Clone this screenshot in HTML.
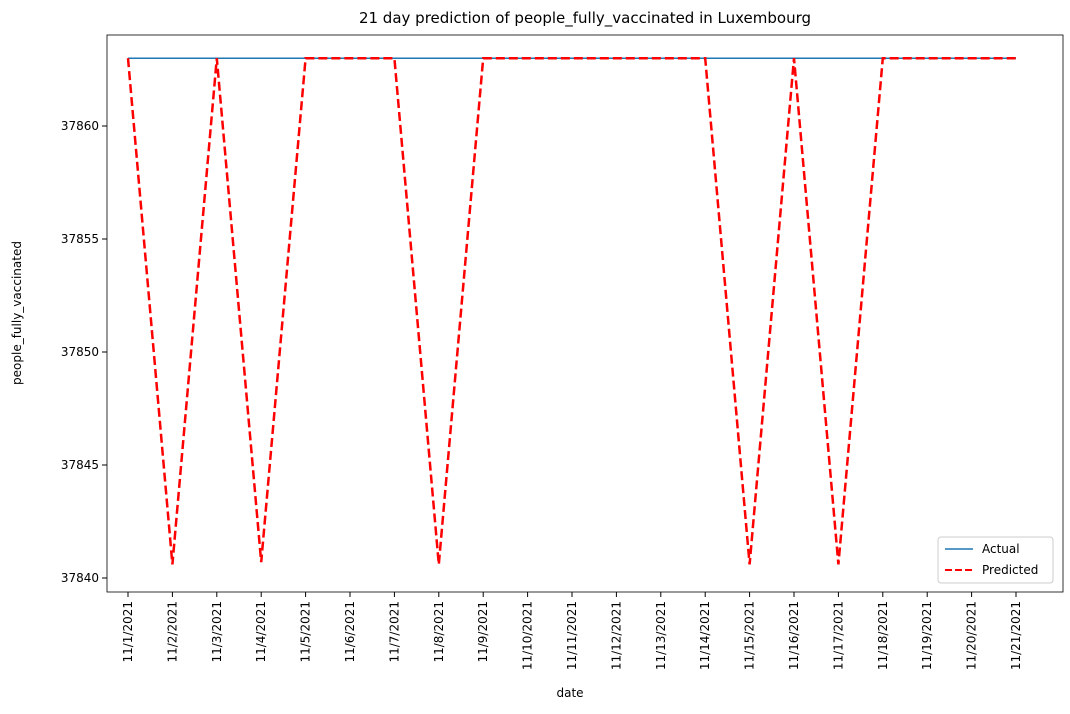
<!DOCTYPE html>
<html><head><meta charset="utf-8"><style>
body{margin:0;background:#fff;font-family:"Liberation Sans","DejaVu Sans",sans-serif;}
svg text{font-family:"DejaVu Sans","Liberation Sans",sans-serif;}
</style></head><body>
<svg id="chart" width="1070" height="709" xmlns="http://www.w3.org/2000/svg">
<rect width="1070" height="709" fill="#fff"/>
<text x="585" y="23" text-anchor="middle" font-size="15">21 day prediction of people_fully_vaccinated in Luxembourg</text>
<text x="570" y="697" text-anchor="middle" font-size="12">date</text>
<text transform="translate(21,313) rotate(-90)" text-anchor="middle" font-size="12">people_fully_vaccinated</text>
<g id="ticks"></g>
<g id="series"></g>
<rect x="107" y="35" width="956" height="557" fill="none" stroke="#000" stroke-width="0.8"/>
<g>
<rect x="938" y="537" width="115" height="46" rx="3" fill="#fff" stroke="#ccc"/>
<line x1="945" y1="549" x2="973" y2="549" stroke="#1f77b4" stroke-width="1.5"/>
<text x="982" y="553" font-size="12">Actual</text>
<line x1="945" y1="570" x2="973" y2="570" stroke="red" stroke-width="2" stroke-dasharray="7,3"/>
<text x="982" y="574" font-size="12">Predicted</text>
</g>
</svg>
<script>
const dates=["11/1/2021","11/2/2021","11/3/2021","11/4/2021","11/5/2021","11/6/2021","11/7/2021","11/8/2021","11/9/2021","11/10/2021","11/11/2021","11/12/2021","11/13/2021","11/14/2021","11/15/2021","11/16/2021","11/17/2021","11/18/2021","11/19/2021","11/20/2021","11/21/2021"];
const actual=[37863,37863,37863,37863,37863,37863,37863,37863,37863,37863,37863,37863,37863,37863,37863,37863,37863,37863,37863,37863,37863];
const predicted=[37863,37840.6,37863,37840.7,37863,37863,37863,37840.6,37863,37863,37863,37863,37863,37863,37840.6,37863,37840.6,37863,37863,37863,37863];
const yTicks=[37840,37845,37850,37855,37860];
const NS="http://www.w3.org/2000/svg";
const x=i=>128+i*(1016-128)/(dates.length-1);
const y=v=>578-(v-37840)*(578-126)/20;
const tg=document.getElementById('ticks'),sg=document.getElementById('series');
function mk(tag,attrs,parent){const e=document.createElementNS(NS,tag);for(const k in attrs)e.setAttribute(k,attrs[k]);parent.appendChild(e);return e;}
yTicks.forEach(v=>{
 const l=mk('line',{x1:102,x2:107,y1:y(v),y2:y(v),stroke:'#000'},tg);
 
 
 const t=mk('text',{x:99,y:y(v)+4,'text-anchor':'end','font-size':12},tg);t.textContent=v;
 
 
});
dates.forEach((d,i)=>{
 const l=mk('line',{x1:x(i),x2:x(i),y1:592,y2:597,stroke:'#000'},tg);
 
 
 const t=mk('text',{transform:`translate(${x(i)+4},601) rotate(-90)`,'text-anchor':'end','font-size':12},tg);t.textContent=d;
 
 
});
const pa=mk('polyline',{points:actual.map((v,i)=>x(i)+','+y(v)).join(' '),fill:'none',stroke:'#1f77b4','stroke-width':1.5},sg);


const pp=mk('polyline',{points:predicted.map((v,i)=>x(i)+','+y(v)).join(' '),fill:'none',stroke:'red','stroke-width':2.5,'stroke-dasharray':'9,4'},sg);


</script>
</body></html>
